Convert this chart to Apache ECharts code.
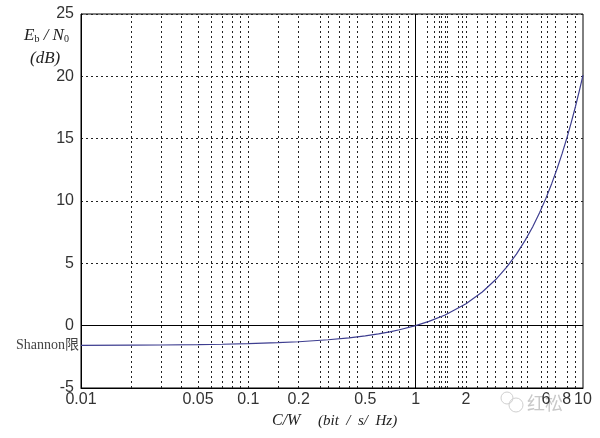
<!DOCTYPE html>
<html>
<head>
<meta charset="utf-8">
<script src="https://cdn.jsdelivr.net/npm/echarts@6/dist/echarts.min.js"></script>
<style>html,body{margin:0;padding:0;background:#fff}#c{width:600px;height:438px}</style>
</head>
<body>
<div id="c"></div>
<script>
// Spectral efficiency C/W (bit/s/Hz)
const rateValues = [0.01,0.02,0.03,0.05,0.07,0.1,0.15,0.2,0.3,0.4,0.5,0.6,0.7,0.8,1,1.2,1.5,2,2.5,3,3.5,4,4.5,5,5.5,6,6.5,7,7.5,8,8.5,9,9.5,10];
// Required Eb/N0 (dB)
const ebn0Values = [-1.58,-1.56,-1.55,-1.52,-1.49,-1.44,-1.36,-1.29,-1.13,-0.98,-0.82,-0.66,-0.50,-0.33,0,0.34,0.86,1.76,2.70,3.68,4.69,5.74,6.82,7.92,9.06,10.21,11.39,12.59,13.80,15.03,16.28,17.54,18.81,20.10];
const xTickLabels = [0.01,0.05,0.1,0.2,0.5,1,2,6,8,10];
const xGridValues = [0.02,0.03,0.04,0.05,0.06,0.07,0.08,0.09,0.1,0.15,0.2,0.27,0.3,0.35,0.4,0.45,0.55,0.63,0.69,0.71,0.8,0.9,1.17,1.3,1.38,1.43,1.5,1.55,1.8,1.9,2,2.34,2.69,3,3.46,3.79,4.25,4.66,5.6,6.1,6.8,8,9];
const yTicks = {min:-5, max:25, interval:5};

const chart = echarts.init(document.getElementById('c'), null, {renderer:'canvas'});
const dotted = {type:[2,3], color:'#222', width:1};
const markData = xGridValues.map(v => ({xAxis:v}));
markData.push({xAxis:1, lineStyle:{type:'solid', color:'#000', width:1}});
markData.push({yAxis:0, lineStyle:{type:'solid', color:'#000', width:1}});

chart.setOption({
  animation:false,
  backgroundColor:'#fff',
  grid:{left:81, right:17, top:14, bottom:50, show:true, borderColor:'#000', borderWidth:1, backgroundColor:'transparent'},
  xAxis:{
    type:'log', logBase:10, min:0.01, max:10,
    axisLine:{show:true, onZero:false, lineStyle:{color:'#000', width:1}},
    axisTick:{show:false},
    splitLine:{show:false},
    minorSplitLine:{show:false},
    axisLabel:{
      customValues:xTickLabels,
      color:'#333', fontFamily:'Liberation Sans, Arial, sans-serif', fontSize:16, margin:4,
      formatter:v => String(v)
    }
  },
  yAxis:{
    type:'value', min:yTicks.min, max:yTicks.max, interval:yTicks.interval,
    axisLine:{show:true, onZero:false, lineStyle:{color:'#000', width:1}},
    axisTick:{show:false},
    splitLine:{show:true, lineStyle:dotted},
    axisLabel:{color:'#333', fontFamily:'Liberation Sans, Arial, sans-serif', fontSize:16, margin:7}
  },
  series:[{
    type:'line',
    data:rateValues.map((x,i)=>[x, ebn0Values[i]]),
    showSymbol:false,
    smooth:false,
    lineStyle:{color:'#3e3e90', width:1.2},
    z:5,
    markLine:{
      silent:true, symbol:'none', animation:false,
      label:{show:false},
      lineStyle:dotted,
      data:markData,
      z:1
    }
  }],
  graphic:[
    {type:'text', left:24, top:27, style:{
      text:'{i|E}{s|b}{i| / N}{s|0}',
      rich:{
        i:{fontFamily:'Liberation Serif, Times New Roman, serif', fontStyle:'italic', fontSize:17, fill:'#222'},
        s:{fontFamily:'Liberation Serif, Times New Roman, serif', fontSize:10, fill:'#222', verticalAlign:'bottom', padding:[7,0,0,0]}
      }
    }},
    {type:'text', left:30, top:50, style:{
      text:'(dB)', font:'italic 17px "Liberation Serif", serif', fill:'#222'
    }},
    {type:'text', left:16, top:338, style:{
      text:'Shannon限', font:'14px "Liberation Serif", "Noto Sans CJK SC", serif', fill:'#444'
    }},
    {type:'text', left:272, top:413, style:{
      text:'C/W', font:'italic 16px "Liberation Serif", serif', fill:'#222'
    }},
    {type:'text', left:318, top:414, style:{
      text:'(bit  /  s/  Hz)', font:'italic 15px "Liberation Serif", serif', fill:'#222'
    }},
    {type:'text', left:527, top:394, style:{
      text:'红松', font:'18px "Noto Sans CJK SC", sans-serif', fill:'#c8c8c8'
    }, z:0},
    {type:'circle', shape:{cx:516, cy:405, r:7}, style:{fill:'none', stroke:'#d0d0d0', lineWidth:1}},
    {type:'circle', shape:{cx:507, cy:398, r:6}, style:{fill:'none', stroke:'#d0d0d0', lineWidth:1}}
  ]
});
</script>
</body>
</html>
